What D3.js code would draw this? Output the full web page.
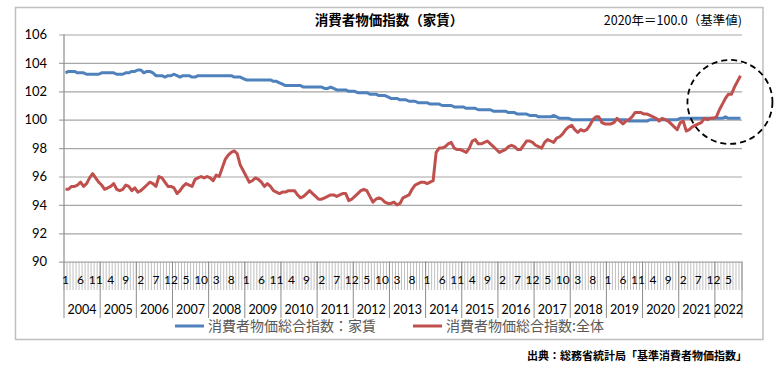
<!DOCTYPE html>
<html>
<head>
<meta charset="utf-8">
<script src="https://cdn.jsdelivr.net/npm/d3@7"></script>
<style>
  body { margin: 0; background: #fff; }
  svg { display: block; }
  .num { font-family: Lato, "Noto Sans CJK JP", sans-serif; }
  .jp { font-family: "Noto Sans CJK JP", sans-serif; }
</style>
</head>
<body>
<div id="chart"></div>
<script>
// 消費者物価指数 (2020年=100), monthly from Jan 2004 to Sep 2022
const years = d3.range(2004, 2023);
const yTicks = [90, 92, 94, 96, 98, 100, 102, 104, 106];

// 消費者物価総合指数：家賃
const rent = [
  103.3,103.4,103.4,103.4,103.3,103.3,103.3,103.2,103.2,103.2,103.2,103.2,
  103.3,103.3,103.3,103.3,103.3,103.2,103.2,103.2,103.3,103.3,103.4,103.4,
  103.5,103.5,103.3,103.4,103.4,103.3,103.1,103.1,103.1,103.0,103.1,103.1,
  103.2,103.1,103.0,103.1,103.1,103.1,103.0,103.0,103.1,103.1,103.1,103.1,
  103.1,103.1,103.1,103.1,103.1,103.1,103.1,103.1,103.0,103.0,103.0,102.9,
  102.8,102.8,102.8,102.8,102.8,102.8,102.8,102.8,102.8,102.7,102.7,102.6,
  102.5,102.4,102.4,102.4,102.4,102.4,102.4,102.3,102.3,102.3,102.3,102.3,
  102.3,102.3,102.2,102.2,102.3,102.2,102.1,102.1,102.1,102.1,102.0,102.0,
  102.0,101.9,101.9,101.9,101.9,101.8,101.8,101.8,101.7,101.7,101.7,101.6,
  101.5,101.5,101.5,101.4,101.4,101.4,101.3,101.3,101.3,101.2,101.2,101.2,
  101.2,101.1,101.1,101.1,101.1,101.0,101.0,101.0,101.0,100.9,100.9,100.9,
  100.9,100.8,100.8,100.8,100.8,100.7,100.7,100.7,100.7,100.7,100.6,100.6,
  100.6,100.6,100.6,100.5,100.5,100.5,100.4,100.4,100.4,100.4,100.3,100.3,
  100.3,100.2,100.2,100.2,100.2,100.2,100.3,100.2,100.1,100.1,100.1,100.1,
  100.0,100.0,100.0,100.0,100.0,100.0,100.0,100.0,100.0,100.0,100.0,100.0,
  100.0,100.0,100.0,100.0,100.0,100.0,100.0,99.9,99.9,99.9,99.9,99.9,
  99.9,99.9,100.0,100.0,100.0,100.0,100.0,100.0,100.0,100.0,100.0,100.0,
  100.1,100.1,100.1,100.1,100.1,100.1,100.1,100.1,100.1,100.1,100.1,100.1,
  100.1,100.1,100.1,100.2,100.1,100.1,100.1,100.1,100.1
];

// 消費者物価総合指数:全体
const overall = [
  95.1,95.1,95.3,95.3,95.4,95.6,95.3,95.5,95.9,96.2,95.9,95.6,
  95.4,95.1,95.2,95.3,95.5,95.1,95.0,95.1,95.4,95.3,95.0,95.2,
  94.9,95.0,95.2,95.4,95.6,95.5,95.3,96.0,95.9,95.6,95.3,95.3,
  95.2,94.8,95.0,95.3,95.5,95.4,95.3,95.8,95.9,96.0,95.9,96.0,
  95.9,95.7,96.1,96.0,96.6,97.2,97.5,97.7,97.8,97.6,96.8,96.4,
  96.0,95.6,95.7,95.9,95.8,95.6,95.3,95.5,95.3,95.0,94.9,94.8,
  94.9,94.9,95.0,95.0,95.0,94.7,94.5,94.6,94.8,95.0,94.8,94.6,
  94.4,94.4,94.5,94.6,94.7,94.7,94.6,94.7,94.8,94.8,94.3,94.4,
  94.6,94.8,95.0,95.1,95.0,94.6,94.2,94.4,94.5,94.4,94.2,94.1,
  94.1,94.2,94.0,94.1,94.5,94.6,94.7,95.1,95.4,95.5,95.6,95.6,
  95.5,95.6,95.7,97.7,98.0,98.0,98.1,98.3,98.4,98.0,97.9,97.9,
  97.8,97.7,98.0,98.5,98.6,98.3,98.3,98.4,98.5,98.3,98.1,97.9,
  97.7,97.8,97.9,98.1,98.2,98.1,97.9,97.9,98.2,98.5,98.5,98.4,
  98.2,98.1,98.0,98.4,98.6,98.5,98.4,98.7,98.8,99.0,99.3,99.5,
  99.6,99.3,99.1,99.3,99.2,99.3,99.6,100.0,100.2,100.2,99.8,99.7,
  99.7,99.7,99.8,100.1,99.9,99.7,99.9,100.0,100.2,100.5,100.5,100.5,
  100.4,100.4,100.3,100.2,100.1,99.9,100.1,100.0,99.9,99.7,99.5,99.3,
  99.8,99.9,99.2,99.3,99.5,99.6,99.7,99.8,100.1,100.0,100.1,100.1,
  100.2,100.7,101.1,101.5,101.8,101.8,102.3,102.7,103.1
];

// categories: year-month
const categories = [];
years.forEach(yr => {
  for (let m = 1; m <= 12; m++) categories.push({ year: yr, month: m, key: yr + '-' + m });
});
categories.length = rent.length;

const series = [
  { name: '消費者物価総合指数：家賃', values: rent, color: '#4f81bd' },
  { name: '消費者物価総合指数:全体', values: overall, color: '#c0504d' }
];

const W = 778, H = 385;
const plotLeft = 64, plotRight = 742, plotTop = 34.5, plotBottom = 261.7;

const svg = d3.select('#chart').append('svg')
  .attr('width', W).attr('height', H);

// outer frame
svg.append('rect')
  .attr('x', 15.5).attr('y', 7.5)
  .attr('width', 747.5).attr('height', 332)
  .attr('fill', '#fff')
  .attr('stroke', '#bfbfbf')
  .attr('stroke-width', 1.5);

const x = d3.scaleBand()
  .domain(categories.map(d => d.key))
  .range([plotLeft, plotRight])
  .padding(0);

const y = d3.scaleLinear()
  .domain([90, 106])
  .range([plotBottom, plotTop]);

const xc = i => x(categories[i].key) + x.bandwidth() / 2;

// y gridlines + labels
const yAxis = svg.append('g')
  .attr('class', 'num')
  .attr('transform', `translate(${plotLeft - 5},0)`)
  .call(d3.axisLeft(y).tickValues(yTicks).tickSize(-(plotRight - plotLeft + 5)).tickPadding(12));
yAxis.select('.domain').remove();
yAxis.selectAll('.tick line').attr('stroke', '#a6a6a6').attr('stroke-width', 1.2);
yAxis.selectAll('.tick text')
  .attr('fill', '#000')
  .style('font-size', '13px');

// category ticks (every month boundary)
const tickBounds = categories.map(d => x(d.key)).concat([plotRight]);
svg.append('g')
  .selectAll('line')
  .data(tickBounds)
  .join('line')
  .attr('x1', d => d).attr('x2', d => d)
  .attr('y1', plotBottom).attr('y2', 290)
  .attr('stroke', '#b0b0b0')
  .attr('stroke-width', 0.8);

// year separators
const yearStarts = years.map(yr => categories.findIndex(c => c.year === yr));
const yearBounds = yearStarts.map(i => x(categories[i].key)).concat([plotRight]);
svg.append('g')
  .selectAll('line')
  .data(yearBounds)
  .join('line')
  .attr('x1', d => d).attr('x2', d => d)
  .attr('y1', plotBottom).attr('y2', 318)
  .attr('stroke', '#8c8c8c')
  .attr('stroke-width', 1);

// y axis line
svg.append('line')
  .attr('x1', plotLeft).attr('x2', plotLeft)
  .attr('y1', plotTop).attr('y2', plotBottom)
  .attr('stroke', '#8c8c8c')
  .attr('stroke-width', 1.2);

// month labels, every 5th category
const xAxis = svg.append('g')
  .attr('class', 'num')
  .attr('transform', `translate(0,${plotBottom})`)
  .call(d3.axisBottom(x)
    .tickValues(categories.filter((d, i) => i % 5 === 0).map(d => d.key))
    .tickFormat(k => k.split('-')[1])
    .tickSize(0)
    .tickPadding(14));
xAxis.select('.domain').remove();
xAxis.selectAll('.tick text').attr('fill', '#000').style('font-size', '12px');

// year labels
svg.append('g')
  .attr('class', 'num')
  .selectAll('text')
  .data(years)
  .join('text')
  .attr('x', (d, i) => (yearBounds[i] + yearBounds[i + 1]) / 2)
  .attr('y', 313.5)
  .attr('text-anchor', 'middle')
  .attr('fill', '#000')
  .style('font-size', '12.5px')
  .text(d => d);

// lines
const line = d3.line()
  .x((d, i) => xc(i))
  .y(d => y(d));

series.forEach(s => {
  svg.append('path')
    .datum(s.values)
    .attr('fill', 'none')
    .attr('stroke', s.color)
    .attr('stroke-width', 3)
    .attr('stroke-linejoin', 'round')
    .attr('d', line);
});

// dashed circle highlighting recent rise
svg.append('ellipse')
  .attr('cx', x(categories[221].key))
  .attr('cy', y(101.25))
  .attr('rx', 42.5)
  .attr('ry', 42)
  .attr('fill', 'none')
  .attr('stroke', '#000')
  .attr('stroke-width', 1.8)
  .attr('stroke-dasharray', '6,4');

// title
svg.append('text')
  .attr('class', 'jp')
  .attr('x', 389).attr('y', 25)
  .attr('text-anchor', 'middle')
  .attr('font-weight', 'bold')
  .style('font-size', '13.5px')
  .text('消費者物価指数（家賃）');

svg.append('text')
  .attr('class', 'jp')
  .attr('x', 742).attr('y', 25)
  .attr('text-anchor', 'end')
  .style('font-size', '12.5px')
  .text('2020年＝100.0（基準値)');

// legend
const legendPos = [175, 413];
series.forEach((s, i) => {
  const g = svg.append('g').attr('transform', `translate(${legendPos[i]},326)`);
  g.append('line')
    .attr('x1', 0).attr('x2', 29)
    .attr('stroke', s.color).attr('stroke-width', 3);
  g.append('text')
    .attr('class', 'jp')
    .attr('x', 33).attr('y', 5)
    .attr('fill', '#595959')
    .style('font-size', '14px')
    .text(s.name);
});

// source
svg.append('text')
  .attr('class', 'jp')
  .attr('x', 747).attr('y', 360)
  .attr('text-anchor', 'end')
  .attr('font-weight', 'bold')
  .style('font-size', '11px')
  .text('出典：総務省統計局「基準消費者物価指数」');
</script>
</body>
</html>
